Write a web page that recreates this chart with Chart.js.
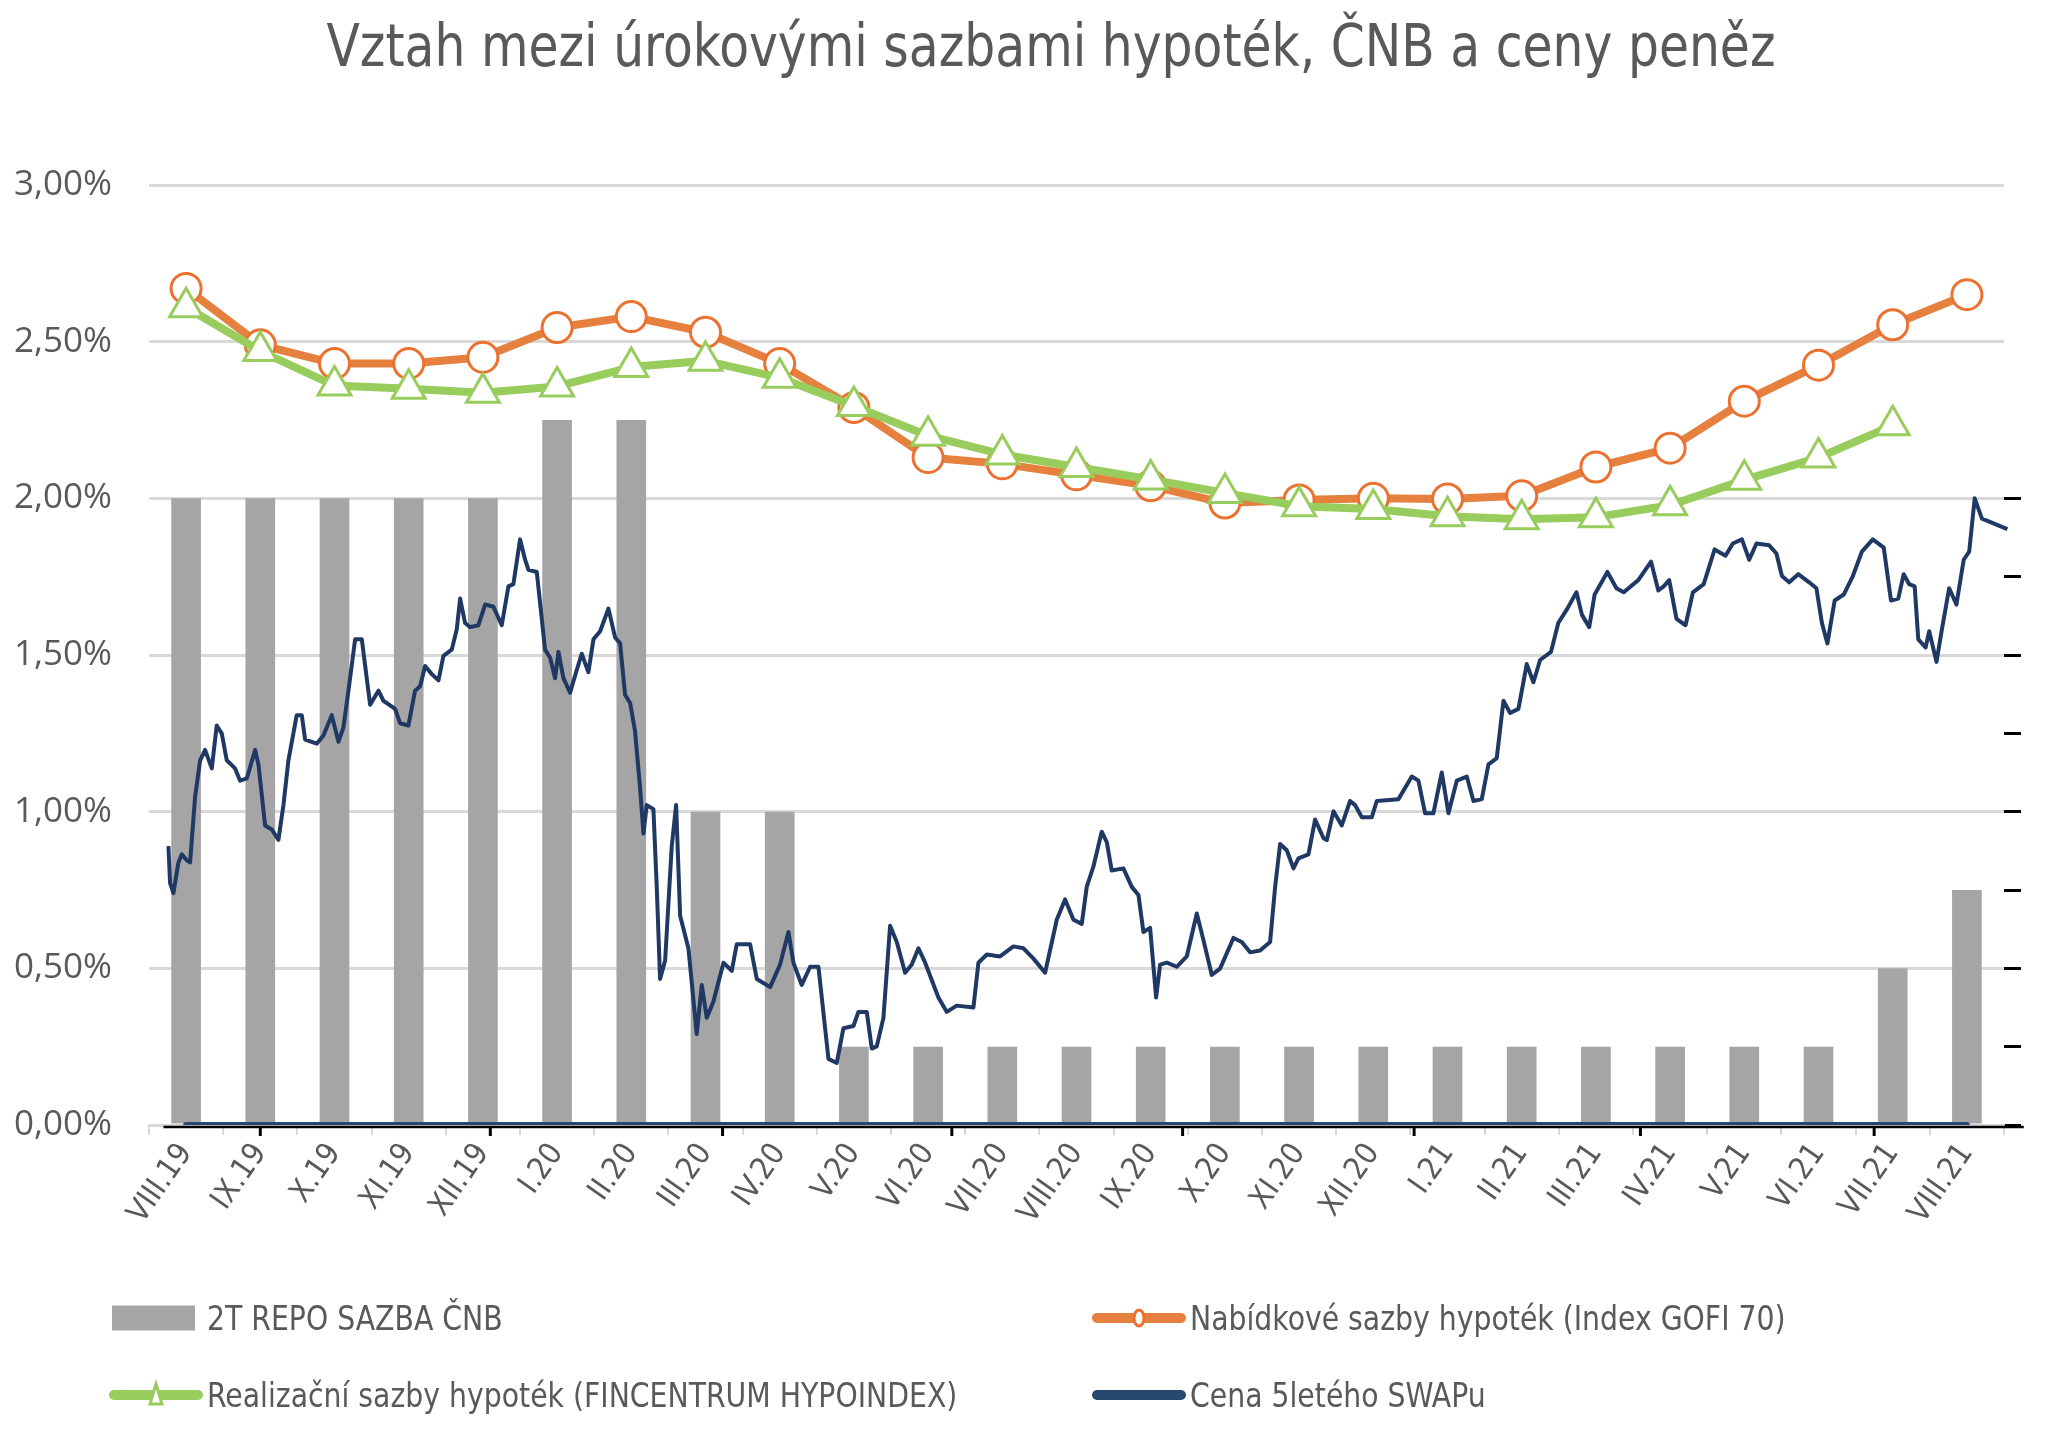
<!DOCTYPE html>
<html>
<head>
<meta charset="utf-8">
<script src="https://cdn.jsdelivr.net/npm/chart.js@4.4.1/dist/chart.umd.min.js"></script>
<style>
  html, body { margin: 0; padding: 0; background: #ffffff; }
  #wrap { width: 2070px; height: 1430px; position: relative; }
</style>
</head>
<body>
<div id="wrap"><canvas id="c" width="2070" height="1430"></canvas></div>
<script>
// ---------------- DATA ----------------
const titleText = 'Vztah mezi úrokovými sazbami hypoték, ČNB a ceny peněz';
const categories = ['VIII.19','IX.19','X.19','XI.19','XII.19','I.20','II.20','III.20','IV.20','V.20','VI.20','VII.20','VIII.20','IX.20','X.20','XI.20','XII.20','I.21','II.21','III.21','IV.21','V.21','VI.21','VII.21','VIII.21'];
const repoRate   = [2.00,2.00,2.00,2.00,2.00,2.25,2.25,1.00,1.00,0.25,0.25,0.25,0.25,0.25,0.25,0.25,0.25,0.25,0.25,0.25,0.25,0.25,0.25,0.50,0.75];
const gofiOffer  = [2.67,2.49,2.43,2.43,2.45,2.545,2.58,2.53,2.43,2.29,2.13,2.11,2.075,2.04,1.985,1.995,2.00,1.998,2.008,2.10,2.16,2.31,2.425,2.554,2.65];
const hypoIndex  = [2.61,2.47,2.36,2.35,2.337,2.357,2.419,2.439,2.385,2.295,2.20,2.14,2.10,2.06,2.017,1.975,1.966,1.943,1.933,1.94,1.978,2.059,2.13,2.233,null];
const swapBase   = [0,0,0,0,0,0,0,0,0,0,0,0,0,0,0,0,0,0,0,0,0,0,0,0,0];
// daily 5Y swap, x = position in months from VIII.19 (category index units)
const swapX = [-0.238,-0.216,-0.171,-0.103,-0.058,0.009,0.054,0.121,0.189,0.256,0.346,0.413,0.481,0.548,0.660,0.728,0.818,0.930,0.975,1.065,1.155,1.244,1.312,1.379,1.491,1.559,1.604,1.761,1.851,1.963,2.053,2.120,2.188,2.278,2.368,2.480,2.592,2.659,2.817,2.884,2.996,3.086,3.154,3.221,3.311,3.401,3.468,3.580,3.648,3.693,3.760,3.827,3.940,4.030,4.142,4.254,4.344,4.411,4.501,4.569,4.614,4.726,4.838,4.906,4.973,5.018,5.085,5.175,5.265,5.332,5.422,5.490,5.580,5.692,5.782,5.849,5.916,5.984,6.051,6.119,6.164,
  6.208,6.298,6.343,6.388,6.456,6.545,6.604,6.658,6.770,6.882,6.950,7.017,7.107,7.242,7.354,7.421,7.601,7.691,7.871,8.005,8.118,8.185,8.297,8.410,8.522,8.657,8.769,8.859,8.994,9.061,9.173,9.241,9.308,9.398,9.488,9.578,9.690,9.780,9.870,9.960,10.139,10.252,10.386,10.611,10.678,10.791,10.970,11.150,11.285,11.420,11.577,
  11.734,11.846,11.959,12.071,12.138,12.228,12.340,12.408,12.475,12.632,12.745,12.835,12.902,12.992,13.073,13.127,13.217,13.351,13.486,13.621,13.711,13.823,13.935,14.115,14.227,14.340,14.474,14.609,14.677,14.744,14.834,14.924,14.991,15.126,15.216,15.328,15.373,15.463,15.575,15.687,15.755,15.845,15.979,16.047,16.339,16.519,16.608,16.698,16.810,16.923,17.013,17.125,17.260,17.350,17.462,17.552,17.664,17.754,17.844,17.956,18.068,18.158,18.248,18.395,
  18.493,18.615,18.738,18.812,18.910,18.983,19.155,19.277,19.375,19.571,19.743,19.841,19.914,19.988,20.086,20.208,20.307,20.453,20.600,20.747,20.845,20.968,21.066,21.164,21.336,21.433,21.507,21.605,21.727,21.874,21.972,22.046,22.120,22.218,22.340,22.463,22.585,22.732,22.879,22.977,23.075,23.148,23.222,23.296,23.345,23.443,23.492,23.590,23.663,23.761,23.859,23.957,24.031,24.105,24.203,24.546,24.619,24.693,24.766];
const swapY = [0.89,0.773,0.74,0.838,0.864,0.845,0.838,1.047,1.164,1.197,1.138,1.275,1.249,1.164,1.138,1.099,1.106,1.197,1.151,0.956,0.943,0.91,1.021,1.164,1.308,1.308,1.230,1.217,1.243,1.308,1.223,1.269,1.386,1.55,1.55,1.341,1.386,1.354,1.328,1.282,1.275,1.386,1.40,1.465,1.439,1.419,1.497,1.517,1.582,1.68,1.602,1.589,1.595,1.661,1.654,1.595,1.719,1.726,1.869,1.804,1.772,1.765,1.517,1.491,1.426,1.51,1.426,1.38,1.452,1.504,1.445,1.55,1.576,1.648,1.556,1.537,1.373,1.347,1.256,1.073,0.93,
  1.021,1.008,0.76,0.466,0.525,0.89,1.021,0.668,0.564,0.29,0.447,0.342,0.394,0.518,0.492,0.577,0.577,0.466,0.44,0.512,0.616,0.518,0.447,0.505,0.505,0.211,0.198,0.309,0.316,0.361,0.361,0.244,0.251,0.342,0.636,0.584,0.486,0.512,0.564,0.518,0.407,0.361,0.381,0.375,0.518,0.544,0.538,0.57,0.564,0.531,0.486,
  0.655,0.72,0.655,0.642,0.76,0.825,0.936,0.903,0.812,0.819,0.76,0.734,0.616,0.629,0.407,0.512,0.518,0.505,0.538,0.675,0.59,0.479,0.499,0.597,0.584,0.551,0.557,0.584,0.76,0.897,0.877,0.819,0.851,0.864,0.975,0.916,0.909,1.001,0.956,1.034,1.021,0.982,0.982,1.034,1.04,1.112,1.099,0.995,0.995,1.125,0.995,1.099,1.112,1.034,1.04,1.151,1.171,1.354,1.315,1.328,1.471,1.413,1.484,1.51,
  1.602,1.648,1.70,1.628,1.589,1.693,1.765,1.713,1.70,1.739,1.798,1.706,1.719,1.739,1.615,1.595,1.70,1.726,1.837,1.817,1.856,1.869,1.804,1.856,1.85,1.824,1.752,1.732,1.758,1.732,1.713,1.602,1.537,1.674,1.693,1.752,1.83,1.869,1.843,1.674,1.68,1.758,1.726,1.719,1.55,1.524,1.576,1.478,1.582,1.713,1.661,1.804,1.83,2.0,1.935,1.902,1.974,1.98,1.993];
const dateAxisTicks = [1.0, 4.1, 7.23, 10.32, 13.43, 16.55, 19.6, 22.75];

const labelRepo  = '2T REPO SAZBA ČNB';
const labelGofi  = 'Nabídkové sazby hypoték (Index GOFI 70)';
const labelHypo  = 'Realizační sazby hypoték (FINCENTRUM HYPOINDEX)';
const labelSwap  = 'Cena 5letého SWAPu';

// ---------------- STYLE ----------------
const GRAY = '#A5A5A5', ORANGE = '#E5803E', ORANGE_PT = '#EC7130', GREEN = '#98CC5C', NAVY = '#1F3864', NAVY2 = '#28476F';
const TEXT = '#595959', GRID = '#D9D9D9';

function hasFont(f) {
  const c = document.createElement('canvas').getContext('2d');
  const s = 'abcdefghijKLMNOP 0123456789';
  c.font = '40px monospace'; const a = c.measureText(s).width;
  c.font = '40px "' + f + '", monospace'; const b = c.measureText(s).width;
  return Math.abs(a - b) > 0.5;
}
const NARROW = hasFont('Liberation Sans Narrow') ? 'Liberation Sans Narrow'
             : (hasFont('DejaVu Sans Condensed') ? 'DejaVu Sans Condensed' : 'Liberation Sans');

// metrics helper: font size for a cap height, and horizontal squeeze for a target width
function textFit(text, family, capH, width) {
  const c = document.createElement('canvas').getContext('2d');
  c.font = '100px "' + family + '"';
  const capRatio = c.measureText('H').actualBoundingBoxAscent / 100;
  const size = capH / capRatio;
  c.font = size + 'px "' + family + '"';
  return { size: size, sx: width / c.measureText(text).width };
}
const TITLE_FIT = textFit(titleText, NARROW, 43, 1449);
const LEG_FIT = textFit(labelHypo, NARROW, 24, 750);

function drawScaledText(c, text, x, y, fit, align) {
  c.save();
  c.font = fit.size.toFixed(2) + 'px "' + NARROW + '"';
  c.translate(x, y); c.scale(fit.sx, 1);
  c.textAlign = align; c.fillText(text, 0, 0);
  c.restore();
}

const titlePlugin = {
  id: 'titleText',
  afterDraw(chart) {
    const c = chart.ctx; c.save();
    c.fillStyle = TEXT; c.textBaseline = 'alphabetic';
    drawScaledText(c, titleText, 1051, 66, TITLE_FIT, 'center');
    c.restore();
  }
};

const dateAxisPlugin = {
  id: 'dateAxis',
  beforeDatasetsDraw(chart) {
    const c = chart.ctx, x2 = chart.scales.x2, y = chart.scales.y;
    const y0 = y.getPixelForValue(0) + 2;
    c.save();
    c.strokeStyle = '#000'; c.lineWidth = 2.5;
    c.beginPath();
    c.moveTo(x2.getPixelForValue(swapX[0]) - 5, y0);
    c.lineTo(x2.getPixelForValue(swapX[swapX.length - 1]), y0);
    c.stroke();
    c.lineWidth = 3;
    dateAxisTicks.forEach(v => {
      const px = x2.getPixelForValue(v);
      c.beginPath(); c.moveTo(px, y0); c.lineTo(px, y0 + 9); c.stroke();
    });
    c.restore();
  }
};

const legendPlugin = {
  id: 'legendBox',
  afterDraw(chart) {
    const c = chart.ctx; c.save();
    const colX = [110, 1093], rowY = [1318, 1395];
    chart.data.datasets.forEach(ds => {
      if (!ds.legendSlot) return;
      const sx = colX[ds.legendSlot.col], sy = rowY[ds.legendSlot.row];
      if (ds.type === 'bar') {
        c.fillStyle = ds.backgroundColor;
        c.fillRect(sx + 2, sy - 12.5, 83, 25);
      } else {
        c.strokeStyle = ds.borderColor; c.lineWidth = 10; c.lineCap = 'round';
        c.beginPath(); c.moveTo(sx + 4, sy); c.lineTo(sx + 88, sy); c.stroke();
        const cx = sx + 46;
        if (ds.pointStyle === 'circle') {
          c.fillStyle = '#fff'; c.strokeStyle = ds.pointBorderColor; c.lineWidth = 3;
          c.beginPath(); c.ellipse(cx, sy, 5, 8, 0, 0, Math.PI * 2); c.fill(); c.stroke();
        } else if (ds.pointStyle === 'triangle') {
          c.fillStyle = '#fff'; c.strokeStyle = ds.pointBorderColor; c.lineWidth = 3; c.lineCap = 'butt';
          c.beginPath(); c.moveTo(cx, sy - 11); c.lineTo(cx + 6, sy + 9); c.lineTo(cx - 6, sy + 9); c.closePath(); c.fill(); c.stroke();
        }
      }
      c.fillStyle = TEXT; c.textBaseline = 'alphabetic';
      drawScaledText(c, ds.label, sx + 97, sy + 12, LEG_FIT, 'left');
    });
    c.restore();
  }
};

const ctx = document.getElementById('c').getContext('2d');
new Chart(ctx, {
  type: 'bar',
  data: {
    labels: categories,
    datasets: [
      { type: 'line', label: labelHypo, data: hypoIndex, order: 0, legendSlot: {col: 0, row: 1},
        borderColor: GREEN, borderWidth: 8, borderJoinStyle: 'round', borderCapStyle: 'round', tension: 0,
        pointStyle: 'triangle', pointRadius: 19, pointBorderWidth: 3, pointBackgroundColor: '#fff', pointBorderColor: GREEN,
        xAxisID: 'x', yAxisID: 'y' },
      { type: 'line', label: labelGofi, data: gofiOffer, order: 1, legendSlot: {col: 1, row: 0},
        borderColor: ORANGE, borderWidth: 8, borderJoinStyle: 'round', borderCapStyle: 'round', tension: 0,
        pointStyle: 'circle', pointRadius: 15, pointBorderWidth: 3, pointBackgroundColor: '#fff', pointBorderColor: ORANGE_PT,
        xAxisID: 'x', yAxisID: 'y' },
      { type: 'line', label: 'swap daily', data: swapX.map((x, i) => ({x: x, y: swapY[i]})), order: 2,
        borderColor: NAVY, borderWidth: 4, borderJoinStyle: 'round', pointRadius: 0, tension: 0, clip: false,
        xAxisID: 'x2', yAxisID: 'y' },
      { type: 'line', label: labelSwap, data: swapBase, order: 3, legendSlot: {col: 1, row: 1},
        borderColor: NAVY2, borderWidth: 6, borderCapStyle: 'round', pointRadius: 0, tension: 0,
        xAxisID: 'x', yAxisID: 'y' },
      { type: 'bar', label: labelRepo, data: repoRate, order: 4, legendSlot: {col: 0, row: 0},
        backgroundColor: GRAY, barPercentage: 0.4, categoryPercentage: 1.0, grouped: false,
        xAxisID: 'x', yAxisID: 'y' }
    ]
  },
  options: {
    responsive: false, animation: false, devicePixelRatio: 1, events: [],
    layout: { padding: { top: 185, left: 0, right: 0, bottom: 0 } },
    plugins: { legend: { display: false }, title: { display: false }, tooltip: { enabled: false } },
    scales: {
      x: {
        type: 'category', offset: true, position: 'bottom',
        grid: { display: true, drawOnChartArea: false, offset: true, color: GRID, lineWidth: 2, tickLength: 10 },
        border: { display: true, color: GRID, width: 2 },
        ticks: { autoSkip: false, minRotation: 55, maxRotation: 55, color: TEXT, padding: 2,
                 font: { family: NARROW, size: 31 } },
        afterFit: s => { s.height = 305; }
      },
      x2: {
        type: 'linear', position: 'bottom', display: true, offset: false, min: -0.5, max: 24.5,
        ticks: { display: false }, grid: { display: false, offset: false }, border: { display: false },
        afterFit: s => { s.height = 0; }
      },
      y: {
        position: 'left', min: 0, max: 3,
        ticks: { stepSize: 0.5, padding: 37, color: TEXT, font: { family: 'Open Sans', size: 35 },
                 callback: v => v.toFixed(2).replace('.', ',') + '%' },
        grid: { color: GRID, lineWidth: 3, drawTicks: false },
        border: { display: false },
        afterFit: s => { s.width = 149; }
      },
      y2: {
        position: 'right', min: 0, max: 3,
        ticks: { display: false, stepSize: 0.25 },
        afterBuildTicks: s => { s.ticks = s.ticks.filter(t => t.value <= 2.0001); },
        grid: { drawOnChartArea: false, color: '#000', lineWidth: 3, tickLength: 17 },
        border: { display: false },
        afterFit: s => { s.width = 66; }
      }
    }
  },
  plugins: [titlePlugin, dateAxisPlugin, legendPlugin]
});
</script>
</body>
</html>
